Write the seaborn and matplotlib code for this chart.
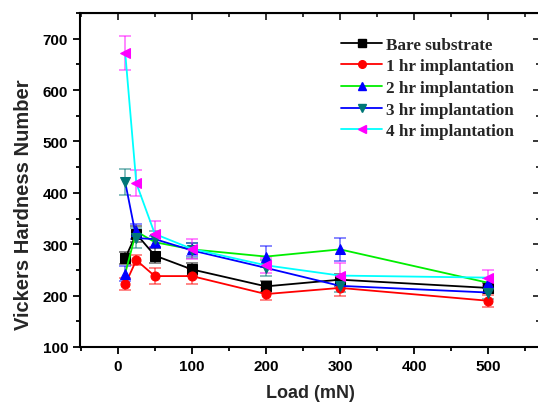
import numpy as np
import pandas as pd
import matplotlib
matplotlib.use("Agg")
import matplotlib.pyplot as plt
import seaborn as sns
from matplotlib.ticker import MultipleLocator
from matplotlib.lines import Line2D

# Load values (mN)
load = [10, 25, 50, 100, 200, 300, 500]

# Vickers hardness per treatment
bare = [273, 320, 278, 251, 218, 231, 215]
hr1 = [222, 269, 238, 238, 203, 215, 190]
hr2 = [243, 325, 304, 290, 276, 290, 225]
hr3 = [421, 312, 310, 288, 254, 219, 206]
hr4 = [673, 419, 320, 291, 259, 239, 235]

# error bars
bare_err = [12, 15, 15, 12, 10, 12, 10]
hr1_err = [12, 10, 15, 15, 12, 15, 12]
hr2_err = [15, 15, 12, 12, 20, 22, 10]
hr3_err = [25, 20, 15, 15, 15, 12, 12]
hr4_err = [33, 25, 25, 20, 15, 25, 15]

labels = ["Bare substrate", "1 hr implantation", "2 hr implantation",
          "3 hr implantation", "4 hr implantation"]
series = [bare, hr1, hr2, hr3, hr4]
errors = [bare_err, hr1_err, hr2_err, hr3_err, hr4_err]
line_colors = ["#000000", "#ff0000", "#00ee00", "#0000ff", "#00ffff"]
marker_colors = ["#000000", "#ff0000", "#0000ff", "#007777", "#ff00ff"]
markers = ["s", "o", "^", "v", "<"]

sns.set_style("ticks")
plt.rcParams['font.family'] = ['Liberation Sans', 'DejaVu Sans']

fig = plt.figure(figsize=(5.38, 4.10), dpi=100)
ax = fig.add_axes([80 / 538, 62 / 410, 460 / 538, 334 / 410])

handles = []
for lab, vals, err, lc, mc, m in zip(labels, series, errors, line_colors, marker_colors, markers):
    df = pd.DataFrame({"Load": load, "HV": vals})
    ax.errorbar(load, vals, yerr=err, fmt="none", ecolor=mc, alpha=0.55,
                elinewidth=1.2, capsize=4, capthick=1.2, zorder=2)
    sns.lineplot(data=df, x="Load", y="HV", ax=ax, color=lc, linewidth=1.3,
                 marker=m, markersize=6.5, markerfacecolor=mc, markeredgecolor=mc,
                 zorder=3, legend=False)
    handles.append(Line2D([0], [0], color=lc, linewidth=1.3, marker=m, markersize=5.5,
                          markerfacecolor=mc, markeredgecolor=mc, label=lab))

ax.set_xlim(-51, 570)
ax.set_ylim(100, 750)
ax.xaxis.set_minor_locator(MultipleLocator(50))
ax.yaxis.set_minor_locator(MultipleLocator(50))
ax.set_xticks([0, 100, 200, 300, 400, 500])
ax.set_yticks([100, 200, 300, 400, 500, 600, 700])

for s in ax.spines.values():
    s.set_visible(True)
    s.set_linewidth(1.5)
    s.set_color("black")

ax.tick_params(which="both", direction="out", width=1.3, colors="black")
ax.tick_params(which="major", length=5)
ax.tick_params(which="minor", length=3)
ax.tick_params(axis="both", labelsize=11)
for t in ax.get_xticklabels() + ax.get_yticklabels():
    t.set_fontweight("bold")

# inward ticks on top and right
top = ax.secondary_xaxis("top")
top.set_xticks([0, 100, 200, 300, 400, 500])
top.xaxis.set_minor_locator(MultipleLocator(50))
top.tick_params(which="both", direction="in", width=1.3, labeltop=False)
top.tick_params(which="major", length=5)
top.tick_params(which="minor", length=3)
right = ax.secondary_yaxis("right")
right.set_yticks([100, 200, 300, 400, 500, 600, 700])
right.yaxis.set_minor_locator(MultipleLocator(50))
right.tick_params(which="both", direction="in", width=1.3, labelright=False)
right.tick_params(which="major", length=5)
right.tick_params(which="minor", length=3)

ax.set_xlabel("Load (mN)", fontsize=13, fontweight="bold", labelpad=8)
ax.set_ylabel("Vickers Hardness Number", fontsize=14.5, fontweight="bold")
ax.yaxis.set_label_coords(-0.103, 0.43)

leg = ax.legend(handles=handles, loc="upper left", bbox_to_anchor=(0.535, 0.975),
                frameon=False, handlelength=2.35, handletextpad=0.25,
                labelspacing=0.33,
                prop={"family": "Liberation Serif", "weight": "bold", "size": 12.3})

fig.savefig("out.png", dpi=100)
